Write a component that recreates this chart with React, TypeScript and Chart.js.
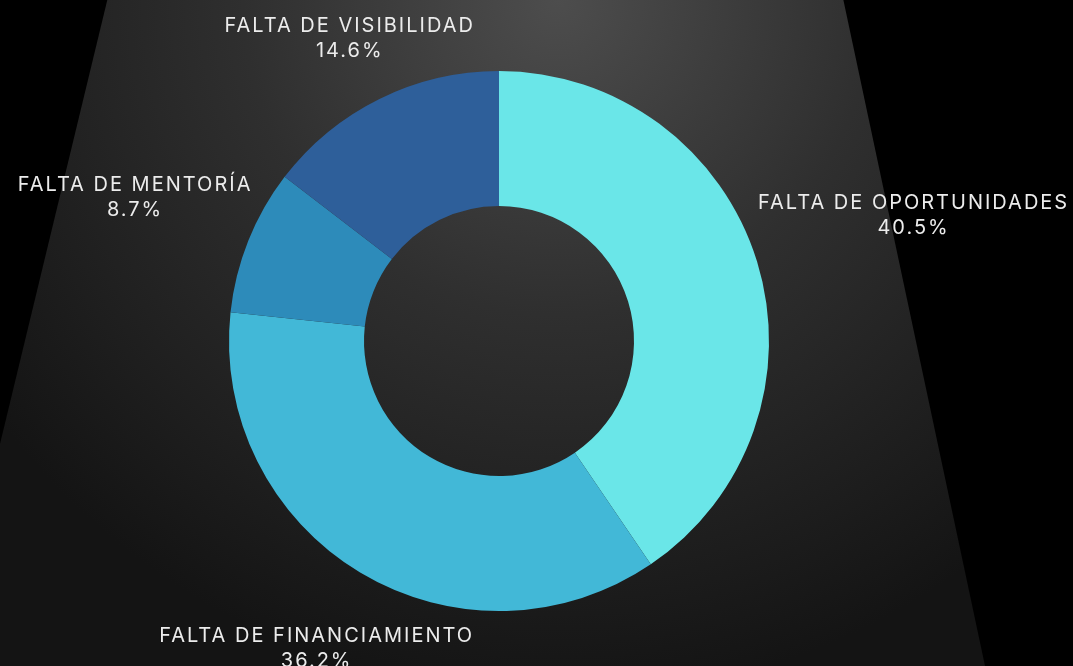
import React, { useEffect, useRef } from "react";
import { Chart, registerables } from "chart.js";

Chart.register(...registerables);

const categories = [
  "FALTA DE OPORTUNIDADES",
  "FALTA DE FINANCIAMIENTO",
  "FALTA DE MENTORÍA",
  "FALTA DE VISIBILIDAD",
];
const values = [40.5, 36.2, 8.7, 14.6];
const colors = ["#6AE6E8", "#42B8D7", "#2D8BBA", "#2E5F9A"];

const W = 1073;
const H = 666;
const FONT = "20px Inter, 'DejaVu Sans', sans-serif";

const backgroundPlugin = {
  id: "spotBackground",
  beforeDraw(chart: any) {
    const { ctx, width, height } = chart;
    ctx.save();
    ctx.fillStyle = "#000";
    ctx.fillRect(0, 0, width, height);
    ctx.beginPath();
    ctx.moveTo(width * 0.1, 0);
    ctx.lineTo(width * 0.786, 0);
    ctx.lineTo(width * 0.918, height);
    ctx.lineTo(-width * 0.05, height);
    ctx.closePath();
    const g = ctx.createRadialGradient(width * 0.52, 0, 0, width * 0.52, 0, height * 1.05);
    g.addColorStop(0, "#4d4d4d");
    g.addColorStop(0.45, "#2f2f2f");
    g.addColorStop(1, "#141414");
    ctx.fillStyle = g;
    ctx.fill();
    ctx.restore();
  },
};

const labelPlugin = {
  id: "outerLabels",
  afterDatasetsDraw(chart: any) {
    const { ctx } = chart;
    const meta = chart.getDatasetMeta(0);
    const data = chart.data.datasets[0].data as number[];
    ctx.save();
    ctx.font = FONT;
    (ctx as any).letterSpacing = "2px";
    ctx.fillStyle = "#ececec";
    ctx.textAlign = "center";
    ctx.textBaseline = "middle";
    meta.data.forEach((arc: any, i: number) => {
      const p = arc.getProps(["x", "y", "startAngle", "endAngle", "outerRadius"], true);
      const mid = (p.startAngle + p.endAngle) / 2;
      const c = Math.cos(mid);
      const s = Math.sin(mid);
      const l1 = chart.data.labels[i] as string;
      const l2 = data[i].toFixed(1) + "%";
      const halfW = Math.max(ctx.measureText(l1).width, ctx.measureText(l2).width) / 2;
      const dist = p.outerRadius + 14 + halfW * Math.abs(c) - 10 * Math.max(s, 0);
      const cx = p.x + c * dist + 1;
      const cy = p.y + s * dist + 2;
      ctx.fillText(l1, cx, cy - 12.5);
      ctx.fillText(l2, cx, cy + 12.5);
    });
    ctx.restore();
  },
};

export default function App() {
  const ref = useRef<HTMLCanvasElement | null>(null);
  useEffect(() => {
    document.body.style.margin = "0";
    document.body.style.background = "#000";
    const chart = new Chart(ref.current!, {
      type: "doughnut",
      data: {
        labels: categories,
        datasets: [
          {
            data: values,
            backgroundColor: colors,
            borderWidth: 0,
          },
        ],
      },
      options: {
        animation: false,
        responsive: false,
        maintainAspectRatio: false,
        cutout: "50%",
        rotation: 0,
        layout: { padding: { top: 71, bottom: 55, left: 229, right: 304 } },
        plugins: {
          legend: { display: false },
          tooltip: { enabled: false },
        },
      },
      plugins: [backgroundPlugin, labelPlugin],
    });
    return () => chart.destroy();
  }, []);
  return (
    <div style={{ position: "fixed", left: 0, top: 0, width: W, height: H, background: "#000" }}>
      <canvas ref={ref} width={W} height={H} style={{ display: "block", width: W, height: H }} />
    </div>
  );
}
